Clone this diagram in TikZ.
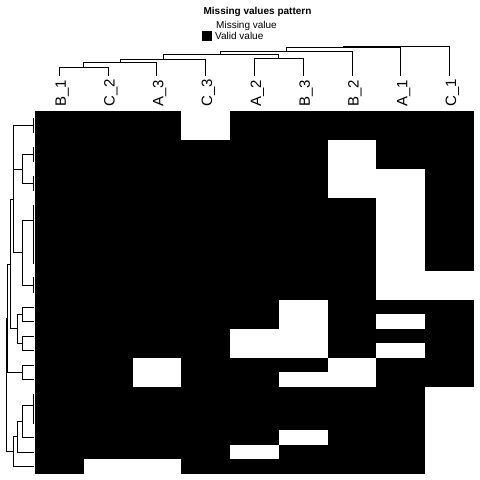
\documentclass[tikz,border=0pt]{standalone}
\usepackage{fontspec}
\setmainfont{Liberation Sans}
\begin{document}
\begin{tikzpicture}[x=1pt,y=-1pt,
  dend/.style={line width=1pt, line join=miter, line cap=rect},
  collab/.style={rotate=90, anchor=base west, inner sep=0pt, font=\fontsize{15}{15}\selectfont},
  legtxt/.style={anchor=base west, inner sep=0pt, font=\fontsize{10}{10}\selectfont},
  titletxt/.style={anchor=base, inner sep=0pt, font=\fontsize{10}{10}\selectfont\bfseries}]
\useasboundingbox (0,0) rectangle (480,480);
% heatmap
\fill[black] (35,111) rectangle (474,474);
\foreach \ra/\rb/\ca/\cb in {1/2/4/4, 3/6/7/7, 5/13/8/8, 12/13/9/9, 14/17/6/6, 16/17/5/5,
  15/15/8/8, 17/17/8/8, 18/19/3/3, 18/19/7/7, 19/19/6/6, 20/25/9/9, 23/23/6/6, 24/24/5/5, 25/25/2/3}
  \fill[white] ({35+48.78*(\ca-1)},{111+14.52*(\ra-1)}) rectangle ({35+48.78*\cb},{111+14.52*\rb});
% column labels
\foreach \lab [count=\i] in {B\_1,C\_2,A\_3,C\_3,A\_2,B\_3,B\_2,A\_1,C\_1}
  \node[collab] (lab\i) at ({35+48.78*(\i-0.5)+6.5},107) {\lab};
% top dendrogram
\draw[dend] (59.39,75)--(59.39,67.3)--(108.17,67.3)--(108.17,75);
\draw[dend] (83.78,67.3)--(83.78,62.3)--(156.95,62.3)--(156.95,75);
\draw[dend] (120.37,62.3)--(120.37,59)--(205.73,59)--(205.73,75);
\draw[dend] (254.51,75)--(254.51,58.5)--(303.29,58.5)--(303.29,75);
\draw[dend] (163.05,59)--(163.05,54.5)--(278.9,54.5)--(278.9,58.5);
\draw[dend] (220.98,54.5)--(220.98,51.5)--(352.07,51.5)--(352.07,75);
\draw[dend] (286.5,51.5)--(286.5,47.3)--(400.85,47.3)--(400.85,75);
\draw[dend] (343.7,47.3)--(343.7,46.3)--(449.63,46.3)--(449.63,75);
% left dendrogram
\draw[dend] (33.5,118.26)--(33.5,132.78);
\draw[dend] (33.5,147.3)--(33.5,161.82);
\draw[dend] (33.5,176.34)--(33.5,190.86);
\draw[dend] (33.5,154.56)--(22.3,154.56)--(22.3,183.6)--(33.5,183.6);
\draw[dend] (33.5,125.52)--(13.3,125.52)--(13.3,169.08)--(22.3,169.08);
\draw[dend] (33.5,205.38)--(33.5,263.46);
\draw[dend] (33.5,277.98)--(33.5,292.5);
\draw[dend] (33.5,220)--(22.3,220)--(22.3,285.24)--(33.5,285.24);
\draw[dend] (13.3,147.3)--(13.3,252.62)--(22.3,252.62);
\draw[dend] (33.5,307.02)--(22.3,307.02)--(22.3,321.54)--(33.5,321.54);
\draw[dend] (33.5,336.06)--(22.3,336.06)--(22.3,350.58)--(33.5,350.58);
\draw[dend] (22.3,314.28)--(17.3,314.28)--(17.3,343.32)--(22.3,343.32);
\draw[dend] (13.3,199.96)--(10.7,199.96)--(10.7,328.8)--(17.3,328.8);
\draw[dend] (33.5,365.1)--(22.3,365.1)--(22.3,379.62)--(33.5,379.62);
\draw[dend] (10.7,264.38)--(7.3,264.38)--(7.3,372.36)--(22.3,372.36);
\draw[dend] (33.5,394.14)--(33.5,423.18);
\draw[dend] (33.5,405.7)--(22.3,405.7)--(22.3,437.7)--(33.5,437.7);
\draw[dend] (22.3,421.7)--(17.3,421.7)--(17.3,452.22)--(33.5,452.22);
\draw[dend] (17.3,436.96)--(13.3,436.96)--(13.3,466.74)--(33.5,466.74);
\draw[dend] (7.3,318.37)--(6,318.37)--(6,451.85)--(13.3,451.85);
% title and legend
\node[titletxt] (title) at (257.5,14) {Missing values pattern};
\fill[black] (202.3,30.7) rectangle (211.7,40.7);
\node[legtxt] (missing) at (216,28.3) {Missing value};
\node[legtxt] (valid) at (215,39.3) {Valid value};
\end{tikzpicture}
\end{document}
